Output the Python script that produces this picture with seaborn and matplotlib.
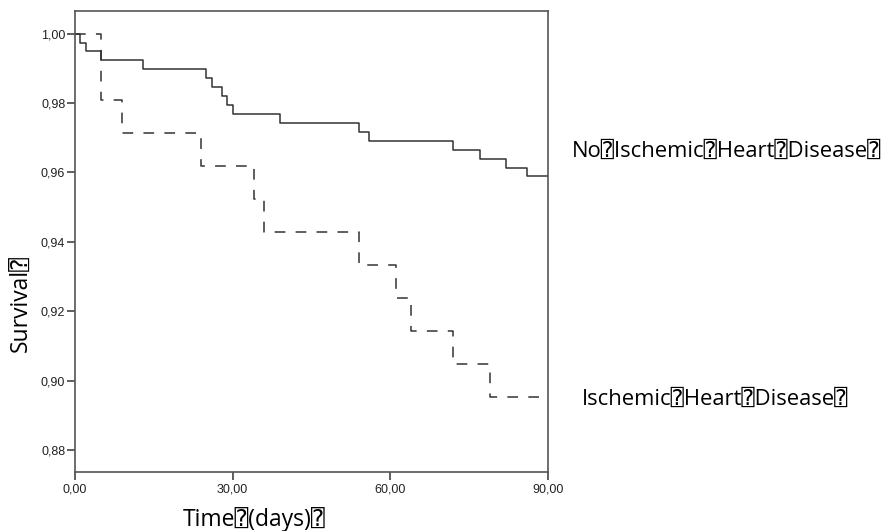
import matplotlib
matplotlib.use("Agg")
import matplotlib.pyplot as plt
import pandas as pd
import seaborn as sns

# Kaplan-Meier survival steps: day of each event and the survival estimate after it
no_ihd_days = [0, 1, 2, 5, 13, 25, 26, 28, 29, 30, 39, 54, 56, 72, 77, 82, 86, 90]
no_ihd_surv = [1.0, 0.9974, 0.9949, 0.9923, 0.9897, 0.9871, 0.9846, 0.9820, 0.9794,
               0.9769, 0.9743, 0.9717, 0.9691, 0.9666, 0.9640, 0.9614, 0.9589, 0.9589]
ihd_days = [0, 5, 9, 24, 34, 36, 54, 61, 64, 72, 79, 90]
ihd_surv = [1.0, 0.9810, 0.9714, 0.9619, 0.9524, 0.9429, 0.9333, 0.9238, 0.9143,
            0.9048, 0.8952, 0.8952]

group_labels = ["No⍰Ischemic⍰Heart⍰Disease⍰", "Ischemic⍰Heart⍰Disease⍰"]
x_ticks = [0, 30, 60, 90]
y_ticks = [0.88, 0.90, 0.92, 0.94, 0.96, 0.98, 1.00]
x_label = "Time⍰(days)⍰"
y_label = "Survival⍰"

sns.set_theme(style="white")
label_font = ["Open Sans", "DejaVu Sans", "DejaVu Sans Mono"]
tick_font = ["Liberation Sans", "DejaVu Sans"]

df = pd.concat([
    pd.DataFrame({"day": no_ihd_days, "survival": no_ihd_surv, "group": group_labels[0]}),
    pd.DataFrame({"day": ihd_days, "survival": ihd_surv, "group": group_labels[1]}),
], ignore_index=True)

W, H = 890, 531
fig = plt.figure(figsize=(W / 100, H / 100), dpi=100)
ax = fig.add_axes([75 / W, 1 - 472 / H, (548 - 75) / W, (472 - 11) / H])

line_color = "#333333"
sns.lineplot(data=df[df.group == group_labels[0]], x="day", y="survival", ax=ax,
             drawstyle="steps-post", estimator=None, sort=False,
             color=line_color, linewidth=1.1)
sns.lineplot(data=df[df.group == group_labels[1]], x="day", y="survival", ax=ax,
             drawstyle="steps-post", estimator=None, sort=False,
             color=line_color, linewidth=1.1, linestyle=(0, (7, 6.7)))

ax.set_xlim(0, 90)
ax.set_ylim(0.8737, 1.0065)
ax.set_xticks(x_ticks)
ax.set_yticks(y_ticks)
ax.set_xticklabels([f"{v:.2f}".replace(".", ",") for v in x_ticks],
                   family=tick_font, fontsize=9, color="#222222")
ax.set_yticklabels([f"{v:.2f}".replace(".", ",") for v in y_ticks],
                   family=tick_font, fontsize=9, color="#222222")
ax.tick_params(axis="both", which="major", direction="out", length=5.5,
               width=1.2, color="#444444", left=True, bottom=True)
ax.tick_params(axis="y", pad=1.5)
ax.tick_params(axis="x", pad=3)
ax.set_xlabel("")
ax.set_ylabel("")
for s in ax.spines.values():
    s.set_color("#555555")
    s.set_linewidth(1.2)
ax.grid(False)
leg = ax.get_legend()
if leg is not None:
    leg.remove()

# Axis titles and curve labels
fig.text(254 / W, 1 - 526 / H, x_label, ha="center", va="baseline",
         family=label_font, fontsize=16.5, color="#000000")
fig.text(34 / W, 1 - 304 / H, y_label, ha="right", va="center", rotation=90,
         family=label_font, fontsize=16.5, color="#000000")
fig.text(571.7 / W, 1 - 157 / H, group_labels[0], ha="left", va="baseline",
         family=label_font, fontsize=15.8, color="#000000")
fig.text(581.7 / W, 1 - 405 / H, group_labels[1], ha="left", va="baseline",
         family=label_font, fontsize=15.8, color="#000000")

fig.savefig("out.png", dpi=100)
